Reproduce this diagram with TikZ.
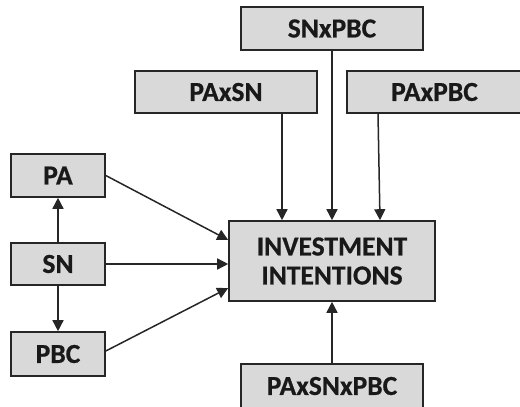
\documentclass[tikz,border=0pt]{standalone}
\usepackage{fontspec}
\setmainfont{Carlito}
\usetikzlibrary{arrows.meta,calc}
\definecolor{boxfill}{HTML}{D9D9D9}
\definecolor{boxline}{HTML}{262626}
\tikzset{
  box/.style={draw=boxline, line width=1.6pt, fill=boxfill, inner sep=0pt,
    font=\fontsize{27.5}{29}\selectfont\bfseries\addfontfeature{FakeBold=0.6}, text=black!90, align=center},
  arr/.style={draw=black!85, line width=1.5pt, -{Triangle[length=11pt,width=11pt]}}
}
\begin{document}
\begin{tikzpicture}[x=1pt,y=-1pt]
\useasboundingbox (0,0) rectangle (520,407);
\node[box, minimum width=182, minimum height=43] (snpbc) at (332,28.5) {SNxPBC};
\node[box, minimum width=182, minimum height=42] (pasn) at (226,92) {PAxSN};
\node[box, minimum width=175, minimum height=42] (papbc) at (434.5,92) {PAxPBC};
\node[box, minimum width=94, minimum height=43] (pa) at (58,175.5) {PA};
\node[box, minimum width=94, minimum height=42] (sn) at (58,264) {SN};
\node[box, minimum width=94, minimum height=44] (pbc) at (58,354) {PBC};
\node[box, minimum width=206, minimum height=80] (inv) at (332,261) {INVESTMENT\\INTENTIONS};
\node[box, minimum width=182, minimum height=44] (all) at (332,386) {PAxSNxPBC};

\draw[arr] (sn.north) -- (pa.south);
\draw[arr] (sn.south) -- (pbc.north);
\draw[arr] (pa.east) -- ($(inv.west)+(0,-21)$);
\draw[arr] (sn.east) -- (sn.east -| inv.west);
\draw[arr] ($(pbc.east)+(0,-3)$) -- ($(inv.west)+(0,27)$);
\draw[arr] (pasn.south -| 282,0) -- (inv.north -| 282,0);
\draw[arr] (snpbc.south) -- (inv.north);
\draw[arr] ($(papbc.south)+(-56.5,0)$) -- ($(inv.north)+(48,0)$);
\draw[arr] (all.north) -- (inv.south);
\end{tikzpicture}
\end{document}
